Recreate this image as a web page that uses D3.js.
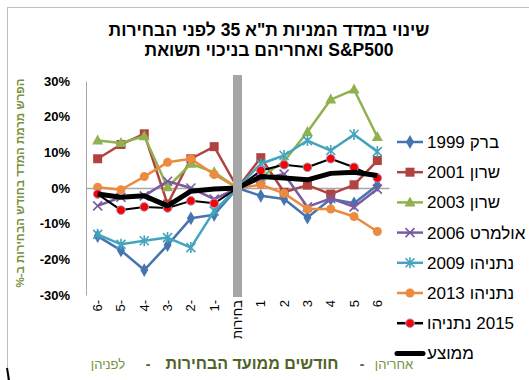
<!DOCTYPE html>
<html><head><meta charset="utf-8">
<script src="https://cdn.jsdelivr.net/npm/d3@7"></script>
<style>html,body{margin:0;padding:0;background:#fff;}svg{display:block;}text{font-family:"Liberation Sans",Arial,sans-serif;}</style>
</head><body>
<script>
const categories = ["6-","5-","4-","3-","2-","1-","בחירות","1","2","3","4","5","6"];
const yTicks = [30,20,10,0,-10,-20,-30];
const s1999 = [-13.5,-17.5,-23,-16,-8.5,-7.5,0,-2.2,-3.1,-8.3,-3.1,-4.3,0.8];
const s2001 = [8.2,12.2,15.2,-4.5,8.2,11.6,0,8.5,-1.2,0.8,-1.7,0.9,7.7];
const s2003 = [13.3,12.6,14.5,0.2,6.8,4.4,0,3,7.5,15.7,24.8,27.6,14.3];
const s2006 = [-5,-2.6,-2.2,1.9,0,-3.1,0,2.5,3.9,-5.3,-2.9,-5.3,-0.3];
const s2009 = [-13,-15.8,-14.8,-13.9,-16.7,-6.4,0,6.8,9.1,13.3,10.5,15,10.2];
const s2013 = [0.2,-0.5,3.2,7.2,8.2,3.8,0,0.9,-1.5,-5.9,-5.9,-8,-12.2];
const s2015 = [-1.7,-6.2,-5.3,-5.6,-3.6,-4.3,0,4.9,6.5,5.8,8.2,5.8,2.8];
const sAvg = [-1.7,-2.6,-2.2,-5,-0.9,-0.3,0,3.2,2.8,2.3,4.1,4.4,3.5];
// legend labels as [left part, right part] in visual order
const legendLabels = [["1999","ברק"],["2001","שרון"],["2003","שרון"],["2006","אולמרט"],["2009","נתניהו"],["2013","נתניהו"],["נתניהו","2015"],["ממוצע",""]];
const title1 = 'שינוי במדד המניות ת"א 35 לפני הבחירות';
const title2He = 'ואחריהם בניכוי תשואת';
const title2En = 'S&P500';
const yTitle = "הפרש מרמת המדד בחודש הבחירות ב-%";
const xTitleBefore = "לפניהן", xTitleMain = "חודשים ממועד הבחירות", xTitleAfter = "אחריהן";

const series = [
  {values:s1999, color:"#4674B0", marker:"diamond", width:2.5},
  {values:s2001, color:"#B0433F", marker:"square", width:2.5},
  {values:s2003, color:"#8FB24E", marker:"triangle", width:2.5},
  {values:s2006, color:"#7A5C9E", marker:"x", width:2.5},
  {values:s2009, color:"#44A4BE", marker:"star", width:2.5},
  {values:s2013, color:"#EC8B3D", marker:"circle", width:2.5},
  {values:s2015, color:"#000000", marker:"redcircle", width:2},
  {values:sAvg, color:"#000000", marker:"none", width:5}
];

const W=529,H=380;
const svg=d3.select("body").append("svg").attr("width",W).attr("height",H);
svg.append("rect").attr("x",7.5).attr("y",7.5).attr("width",W).attr("height",H).attr("fill","#fff").attr("stroke","#BFBFBF");

const x=d3.scaleBand().domain(categories).range([86,389]).padding(0);
const y=d3.scaleLinear().domain([-30,30]).range([295,81]);
const cx=c=>x(c)+x.bandwidth()/2;

// title
svg.append("text").attr("x",269).attr("y",36).attr("text-anchor","middle").attr("direction","rtl")
  .attr("font-size",17.5).attr("font-weight","bold").text(title1);
const t2a=svg.append("text").attr("y",56).attr("font-size",17.5).attr("font-weight","bold").attr("direction","rtl").text(title2He);
const t2b=svg.append("text").attr("y",56).attr("font-size",17.5).attr("font-weight","bold").text(title2En);
{
  const wa=t2a.node().getComputedTextLength(), wb=t2b.node().getComputedTextLength(), sp=5;
  const total=wa+sp+wb, left=269-total/2;
  t2a.attr("x",left+wa).attr("text-anchor","start");
  t2b.attr("x",left+wa+sp).attr("text-anchor","start");
}

// y axis
const yAxis=d3.axisLeft(y).tickValues(yTicks).tickFormat(d=>d+"%").tickSize(0).tickPadding(16);
const ga=svg.append("g").attr("transform","translate(86,0)").call(yAxis);
ga.select(".domain").attr("stroke","#A6A6A6");
ga.selectAll("text").attr("font-size",13).attr("font-weight","bold").attr("fill","#000").attr("font-family","Liberation Sans, Arial, sans-serif");

// x axis line at zero
const xAxis=d3.axisBottom(x).tickSize(0).tickFormat(d=>d);
const gx=svg.append("g").attr("transform",`translate(0,${y(0)})`).call(xAxis);
gx.select(".domain").attr("stroke","#A6A6A6").attr("stroke-width",1.5);
gx.selectAll("text").remove();
svg.append("g").selectAll("text").data(categories).enter().append("text")
  .attr("transform",d=>`translate(${cx(d)+4.5},${300}) rotate(-90)`)
  .attr("text-anchor","end").attr("font-size",13).attr("fill","#000").text(d=>d);

// y title
svg.append("text").attr("transform","translate(24,183) rotate(-90)").attr("text-anchor","middle").attr("direction","rtl")
  .attr("font-size",11.5).attr("font-weight","bold").attr("fill","#76923C").text(yTitle);

function drawMarker(g,type,color,px,py){
  if(type==="diamond") g.append("path").attr("d",d3.symbol(d3.symbolDiamond,55)()).attr("transform",`translate(${px},${py})`).attr("fill",color);
  else if(type==="square") g.append("rect").attr("x",px-4.5).attr("y",py-4.5).attr("width",9).attr("height",9).attr("fill",color);
  else if(type==="triangle") g.append("path").attr("d",`M${px},${py-6}L${px+5.5},${py+4}L${px-5.5},${py+4}Z`).attr("fill",color);
  else if(type==="x") g.append("path").attr("d",`M${px-4.5},${py-4.5}L${px+4.5},${py+4.5}M${px-4.5},${py+4.5}L${px+4.5},${py-4.5}`).attr("stroke",color).attr("stroke-width",1.6);
  else if(type==="star") g.append("path").attr("d",`M${px-4.5},${py-4.5}L${px+4.5},${py+4.5}M${px-4.5},${py+4.5}L${px+4.5},${py-4.5}M${px},${py-5.5}L${px},${py+5.5}`).attr("stroke",color).attr("stroke-width",1.6);
  else if(type==="circle") g.append("circle").attr("cx",px).attr("cy",py).attr("r",4.5).attr("fill",color);
  else if(type==="redcircle") g.append("circle").attr("cx",px).attr("cy",py).attr("r",4.3).attr("fill","#FF0000").attr("stroke","#9A9AD0").attr("stroke-width",1);
}

const line=d3.line().x((d,i)=>cx(categories[i])).y(d=>y(d));
const plot=svg.append("g");
series.forEach(s=>{
  plot.append("path").datum(s.values).attr("d",line).attr("fill","none").attr("stroke",s.color)
    .attr("stroke-width",s.width).attr("stroke-linejoin","round");
  if(s.marker!=="none"){
    const mg=plot.append("g");
    s.values.forEach((v,i)=>{ if(i!==6) drawMarker(mg,s.marker,s.color,cx(categories[i]),y(v)); });
  }
});

svg.append("rect").attr("x",cx("בחירות")-4.5).attr("y",75).attr("width",9).attr("height",222).attr("fill","#A6A6A6");

// legend
const lg=svg.append("g");
series.forEach((s,i)=>{
  const ly=142+i*30.2;
  lg.append("line").attr("x1",397).attr("x2",423).attr("y1",ly).attr("y2",ly).attr("stroke",s.color).attr("stroke-width",s.marker==="none"?5:2.5).attr("stroke-linecap",s.marker==="none"?"round":"butt");
  if(s.marker!=="none") drawMarker(lg,s.marker,s.color,410,ly);
  const [a,b]=legendLabels[i];
  const ta=lg.append("text").attr("x",427).attr("y",ly+6).attr("font-size",17).attr("fill","#000").text(a);
  if(b){
    const wa=ta.node().getComputedTextLength();
    lg.append("text").attr("x",427+wa+5).attr("y",ly+6).attr("font-size",17).attr("fill","#000").text(b);
  }
});

// bottom axis title
const bt=svg.append("g");
bt.append("text").attr("x",108).attr("y",369).attr("text-anchor","middle").attr("direction","rtl").attr("font-size",13).attr("fill","#76923C").text(xTitleBefore);
bt.append("text").attr("x",148).attr("y",369).attr("text-anchor","middle").attr("font-size",14).attr("font-weight","bold").attr("fill","#4F6228").text("-");
bt.append("text").attr("x",252).attr("y",369).attr("text-anchor","middle").attr("direction","rtl").attr("font-size",16).attr("font-weight","bold").attr("fill","#4F6228").text(xTitleMain);
bt.append("text").attr("x",362).attr("y",369).attr("text-anchor","middle").attr("font-size",14).attr("font-weight","bold").attr("fill","#4F6228").text("-");
bt.append("text").attr("x",394).attr("y",369).attr("text-anchor","middle").attr("direction","rtl").attr("font-size",13).attr("fill","#76923C").text(xTitleAfter);

svg.append("path").attr("d","M7,368L9,380").attr("stroke","#000").attr("stroke-width",2);
</script>
</body></html>
